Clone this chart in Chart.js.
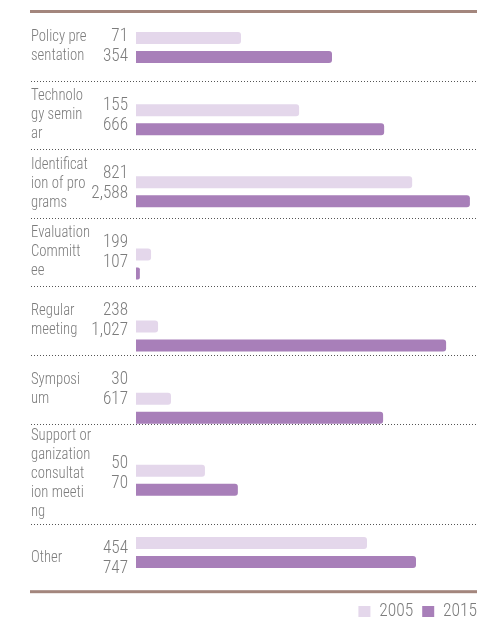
<!DOCTYPE html>
<html><head><meta charset="utf-8">
<script src="https://cdn.jsdelivr.net/npm/chart.js@4/dist/chart.umd.min.js"></script>
<style>html,body{margin:0;padding:0;background:#fff}#wrap{width:504px;height:619px}</style>
</head><body><div id="wrap"><canvas id="c" width="504" height="619"></canvas></div>
<script>
// Category names (wrapped as in the reference)
const categories = [
  ['Policy pre','sentation'],
  ['Technolo','gy semin','ar'],
  ['Identificat','ion of pro','grams'],
  ['Evaluation','Committ','ee'],
  ['Regular','meeting'],
  ['Symposi','um'],
  ['Support or','ganization','consultat','ion meeti','ng'],
  ['Other']
];
const seriesNames = ['2005', '2015'];
// Printed values next to the bars
const labels2005 = ['71','155','821','199','238','30','50','454'];
const labels2015 = ['354','666','2,588','107','1,027','617','70','747'];
// Bar lengths as drawn in the reference (relative scale 0-100)
const bars2005 = [30, 46.6, 78.9, 4.3, 6.3, 10, 19.7, 66];
const bars2015 = [56, 70.9, 95.4, 1.1, 88.6, 70.6, 29.1, 80];

function hasFont(name) {
  const c = document.createElement('canvas').getContext('2d');
  const s = 'abcdefghijklmnopqrstuvwxyz0123456789ABCDEFG';
  let diff = false;
  ['monospace', 'serif'].forEach(fb => {
    c.font = '40px ' + fb; const a = c.measureText(s).width;
    c.font = '40px "' + name + '", ' + fb; const b = c.measureText(s).width;
    if (Math.abs(a - b) > 0.5) diff = true;
  });
  return diff;
}
const condensed = ['Roboto Condensed', 'Liberation Sans Narrow', 'Arial Narrow', 'DejaVu Sans Condensed'].find(hasFont);
const FAMILY = condensed ? '"' + condensed + '", Roboto, sans-serif' : 'Roboto, sans-serif';
const WEIGHT = '300';

const TEXT = '#7c7c7c';
const LIGHT = '#e4d7eb';
const DARK = '#a87fb9';
const RULE = '#a3867d';

function fitScale(ctx, font, sample, target) {
  ctx.font = font;
  const w = ctx.measureText(sample).width;
  return Math.min(1.1, target / w);
}

const deco = {
  id: 'deco',
  rows() {
    const out = [];
    let y = 12;
    categories.forEach(lines => {
      const h = Math.max(68.6, lines.length * 19 + 5);
      out.push({ top: y, bottom: y + h, mid: y + h / 2 });
      y += h;
    });
    return out;
  },
  beforeDatasetsDraw(chart) {
    const ctx = chart.ctx;
    const rows = this.rows();
    ctx.save();
    ctx.fillStyle = RULE;
    ctx.fillRect(30, 10, 447, 3);
    ctx.fillRect(30, rows[rows.length - 1].bottom - 2, 447, 3);
    ctx.strokeStyle = '#555';
    ctx.lineWidth = 1;
    ctx.setLineDash([1, 2]);
    for (let i = 0; i < rows.length - 1; i++) {
      const y = Math.round(rows[i].bottom) + 0.5;
      ctx.beginPath();
      ctx.moveTo(31, y);
      ctx.lineTo(477, y);
      ctx.stroke();
    }
    ctx.restore();
  },
  afterDraw(chart) {
    const ctx = chart.ctx;
    const rows = this.rows();
    const catFont = WEIGHT + ' 16.5px ' + FAMILY;
    const numFont = WEIGHT + ' 19px ' + FAMILY;
    const sCat = fitScale(ctx, catFont, 'Evaluation', 59);
    const sNum = fitScale(ctx, numFont, '2,588', 36.7);
    ctx.save();
    ctx.fillStyle = TEXT;
    ctx.textBaseline = 'middle';
    const put = (t, x, y, align, font, s) => {
      ctx.save();
      ctx.font = font;
      ctx.textAlign = align;
      ctx.translate(x, y);
      ctx.scale(s, 1);
      ctx.fillText(t, 0, 0);
      ctx.restore();
    };
    rows.forEach((r, i) => {
      const lines = categories[i];
      lines.forEach((t, k) => {
        put(t, 31, r.mid + (k - (lines.length - 1) / 2) * 19, 'left', catFont, sCat);
      });
      put(labels2005[i], 128, r.mid - 10, 'right', numFont, sNum);
      put(labels2015[i], 128, r.mid + 10, 'right', numFont, sNum);
    });
    ctx.restore();
  }
};

new Chart(document.getElementById('c'), {
  type: 'bar',
  data: {
    labels: categories.map(l => l.join('')),
    datasets: [
      { label: seriesNames[0], data: bars2005, backgroundColor: LIGHT },
      { label: seriesNames[1], data: bars2015, backgroundColor: DARK }
    ]
  },
  options: {
    responsive: false,
    devicePixelRatio: 1,
    animation: false,
    indexAxis: 'y',
    datasets: {
      bar: {
        categoryPercentage: 0.527,
        barPercentage: 0.632,
        borderRadius: 3,
        borderSkipped: 'start'
      }
    },
    layout: { padding: { left: 136, right: 18, top: 11.5, bottom: -11.25 } },
    scales: {
      x: { display: false, min: 0, max: 100 },
      y: { display: false }
    },
    plugins: {
      tooltip: { enabled: false },
      legend: {
        position: 'bottom',
        align: 'end',
        title: { display: true, text: '', padding: { top: 4.25, bottom: 0 }, font: { size: 1, lineHeight: 1 } },
        labels: {
          boxWidth: 12,
          boxHeight: 11,
          padding: 9,
          color: TEXT,
          font: { family: FAMILY, size: condensed ? 17.5 : 16, weight: WEIGHT }
        }
      }
    }
  },
  plugins: [deco]
});
</script>
</body></html>
